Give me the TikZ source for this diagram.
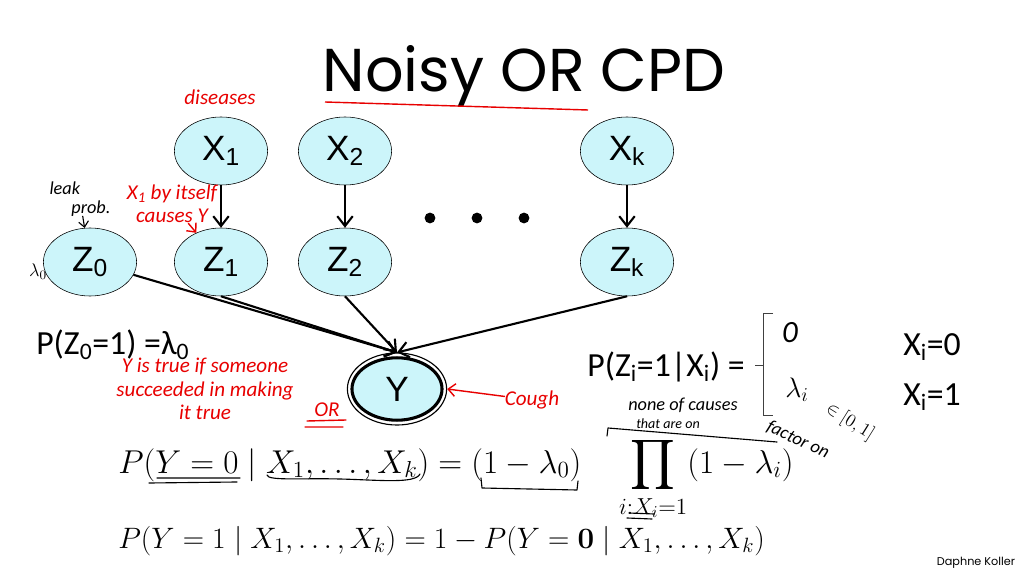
\RequirePackage{fix-cm}
\documentclass[tikz,border=0pt]{standalone}
\usepackage{amsmath}
\usepackage{fontspec}
\usetikzlibrary{shapes.geometric,arrows.meta}
\newfontfamily\arialfont{Liberation Sans}
\newfontfamily\califont{Carlito}
\newfontfamily\comicfont{Poppins}
\definecolor{nodefill}{RGB}{204,245,250}
\definecolor{inkred}{RGB}{232,0,0}
\begin{document}
\begin{tikzpicture}[x=0.025cm,y=-0.025cm,
varnode/.style={ellipse,draw,fill=nodefill,minimum width=2.33cm,minimum height=1.7cm,inner sep=0pt,font=\arialfont\fontsize{25}{30}\selectfont},
arr/.style={-{Straight Barb[length=7pt,width=11pt]},line width=1.5pt},
dotmark/.style={circle,fill,inner sep=0pt,minimum size=0.27cm},
cpd/.style={font=\califont\fontsize{24}{28}\selectfont,inner sep=0pt},
redink/.style={text=inkred,font=\califont\itshape\fontsize{15}{16.5}\selectfont,inner sep=0pt,align=center},
blackink/.style={font=\califont\itshape\fontsize{13}{13}\selectfont,inner sep=0pt,align=center},
scrawl/.style={line width=0.8pt,line cap=round,line join=round},
redarr/.style={scrawl,inkred,line width=1pt,-{Straight Barb[length=5pt,width=9pt]}},
inkarr/.style={scrawl,-{Straight Barb[length=4pt,width=7pt]}}]
\fill[white] (0,0) rectangle (1024,576);
\useasboundingbox (0,0) rectangle (1024,576);
\node[font=\comicfont\fontsize{43}{47}\selectfont,anchor=base,inner sep=0pt] (title) at (524,92) {Noisy OR CPD};
\draw[inkred,line width=1pt] (325,102) -- (588,110);
\node[varnode] (x1) at (221,151) {X\textsubscript{1}};
\node[varnode] (x2) at (345,151) {X\textsubscript{2}};
\node[varnode] (xk) at (627,151) {X\textsubscript{k}};
\node[varnode] (z0) at (90,262) {Z\textsubscript{0}};
\node[varnode] (z1) at (221,262) {Z\textsubscript{1}};
\node[varnode] (z2) at (345,262) {Z\textsubscript{2}};
\node[varnode] (zk) at (627,262) {Z\textsubscript{k}};
\node[ellipse,draw,line width=0.8pt,minimum width=2.48cm,minimum height=1.8cm,inner sep=0pt] (yring) at (397,389) {};
\node[varnode,line width=2.2pt,minimum width=2.25cm,minimum height=1.56cm] (y) at (397,389) {Y};
\foreach \dx [count=\n] in {430,477,524}
  \node[dotmark] (dot\n) at (\dx,218) {};
\foreach \a/\b in {x1/z1,x2/z2,xk/zk}
  \draw[arr] (\a) -- (\b);
\draw[arr] (z0) -- (yring.north);
\foreach \a in {z1,z2,zk}
  \draw[arr] (\a.south) -- (yring.north);
\node[cpd,anchor=west] (pz0) at (36,345) {P(Z\textsubscript{0}=1) =λ\textsubscript{0}};
\node[cpd,anchor=east] (pzi) at (745,367) {P(Z\textsubscript{i}=1|X\textsubscript{i}) =};
\draw[line width=0.6pt,black!75] (773,313) -- (763,313) -- (763,415) -- (773,415) (763,365) -- (755,365);
\node[blackink,font=\califont\itshape\fontsize{22}{22}\selectfont] (zero) at (790,333) {0};
\node[blackink,font=\fontsize{20}{20}\selectfont] (lami) at (797,390) {$\lambda_i$};
\node[cpd,anchor=west] (xi0) at (903,347) {X\textsubscript{i}=0};
\node[cpd,anchor=west] (xi1) at (903,397) {X\textsubscript{i}=1};
\node[anchor=base west,inner sep=0pt,font=\fontsize{23.5}{28}\selectfont] (eq1) at (118,473) {$P(Y=0\mid X_1,\ldots,X_k)=(1-\lambda_0)\hspace{23pt}\displaystyle\prod_{i:X_i=1}(1-\lambda_i)$};
\node[anchor=base west,inner sep=0pt,font=\fontsize{21}{25}\selectfont] (eq2) at (118,548) {$P(Y=1\mid X_1,\ldots,X_k)=1-P(Y=\boldsymbol{0}\mid X_1,\ldots,X_k)$};
\node[font=\comicfont\fontsize{8}{9}\selectfont,inner sep=0pt] (credit) at (976,563) {Daphne Koller};
\node[redink] (diseases) at (220,97) {diseases};
\node[blackink,align=left] (leak) at (80,199) {leak\\\hspace*{1.2em}prob.};
\draw[inkarr] (leak) -- (z0);
\node[blackink] (lam0) at (38,272) {$\lambda_0$};
\node[redink] (itself) at (172,204) {X\textsubscript{1} by itself\\causes Y};
\draw[redarr] (itself) -- (z1);
\node[redink] (ytrue) at (205,389) {Y is true if someone\\succeeded in making\\it true};
\node[redink] (orlabel) at (327,410) {OR};
\draw[scrawl,inkred,line width=1pt] (307,421) -- (346,420) (305,427) -- (343,427);
\node[redink] (cough) at (532,400) {Cough};
\draw[redarr] (cough) -- (yring.east);
\node[blackink] (nonecauses) at (683,405) {none of causes};
\node[blackink,font=\califont\itshape\fontsize{10}{10}\selectfont] (thaton) at (668,424) {that are on};
\draw[scrawl] (607,436) -- (608,428) -- (777,442);
\node[blackink,rotate=-25] (factoron) at (798,440) {factor on};
\node[blackink,rotate=-32] (range) at (850,422) {$\in[0,1]$};
\draw[scrawl] (157,478) -- (240,478) (149,483) -- (237,482);
\draw[scrawl] (267,475) .. controls (268,481) and (300,478) .. (340,479) .. controls (380,480) and (415,484) .. (420,474);
\draw[scrawl] (481,478) -- (482,488) -- (577,490) -- (578,481);
\draw[scrawl] (629,513) -- (654,514) (627,518) -- (652,519);
\end{tikzpicture}
\end{document}
